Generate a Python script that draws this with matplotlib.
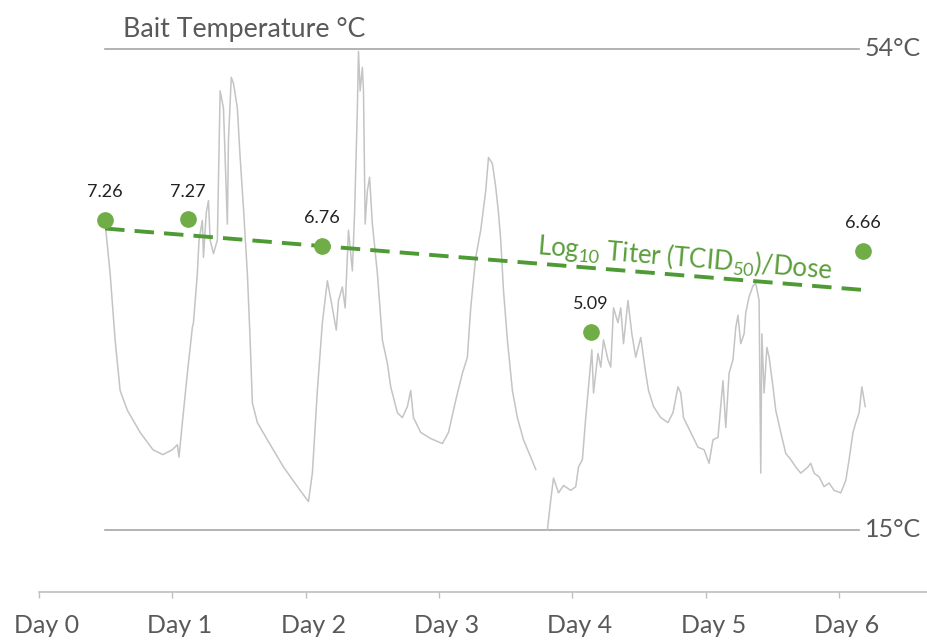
import numpy as np
import matplotlib
matplotlib.use("Agg")
import matplotlib.pyplot as plt

plt.rcParams['font.family'] = ['Lato', 'DejaVu Sans']
plt.rcParams['mathtext.fontset'] = 'custom'
plt.rcParams['mathtext.rm'] = 'Lato'
plt.rcParams['mathtext.it'] = 'Lato'

# bait temperature trace (hours since Day 0, degrees C); nan marks the logger gap
temp_hours = [11.9, 12.8, 13.7, 14.6, 15.9, 18.2, 20.5, 22.3, 24.0, 24.9, 25.2, 25.8, 26.7, 27.6, 27.8,
              28.5, 28.8, 29.4, 29.6, 30.1, 30.5, 30.8, 31.4, 32.1, 32.6, 33.2, 33.9, 34.1, 34.6, 35.0,
              35.7, 36.2, 36.8, 37.5, 38.0, 38.4, 39.3, 41.1, 44.0, 47.0, 48.5, 49.2, 50.1, 51.0, 51.9,
              52.8, 53.5, 53.9, 54.6, 55.1, 55.7, 56.4, 56.8, 57.3, 57.5, 57.8, 58.2, 58.4, 58.7, 59.1,
              59.5, 60.0, 60.9, 61.8, 62.7, 63.3, 64.5, 65.4, 66.3, 66.9, 67.4, 68.7, 70.5, 72.6, 73.7,
              75.0, 76.2, 77.1, 77.7, 78.6, 79.5, 80.4, 80.9, 81.6, 82.2, 82.7, 83.1, 83.6, 84.3, 85.2,
              86.1, 87.2, 88.5, 89.4, 90.5,
              91.5, 92.1, 92.6, 93.5, 94.4, 95.7, 96.6, 97.1, 97.8, 98.4, 98.9, 99.5, 99.8, 100.6, 101.1,
              101.6, 102.4, 102.9, 103.4, 104.2, 104.7, 105.2, 106.0, 106.7, 107.4, 108.3, 109.2, 109.7,
              110.6, 111.9, 113.2, 114.1, 115.0, 115.5, 116.0, 117.3, 118.6, 119.7, 120.6, 121.3, 122.2,
              122.7, 123.1, 123.6, 124.2, 124.9, 125.4, 125.8, 126.3, 126.9, 127.2, 127.8, 128.5, 129.0,
              129.6, 129.9, 130.1, 130.5, 131.0, 131.4, 132.1, 132.6, 133.5, 134.4, 135.3, 136.2, 137.1,
              138.4, 138.9, 139.5, 140.4, 141.3, 142.2, 143.1, 144.3, 145.2, 145.8, 146.5, 147.0, 147.6,
              148.1, 148.5, 148.7]
temp_c = [39.9, 35.8, 30.4, 26.3, 24.7, 22.9, 21.5, 21.1, 21.5, 21.9, 20.9, 23.7, 27.7, 31.4, 31.8,
          35.8, 38.5, 40.1, 37.1, 40.7, 41.7, 38.5, 37.4, 38.5, 50.6, 49.2, 39.8, 46.6, 51.7, 51.2,
          49.2, 45.2, 41.1, 35.8, 30.4, 25.3, 23.7, 22.3, 20.1, 18.2, 17.3, 19.6, 26.3, 31.8, 35.2,
          33.0, 31.2, 33.6, 34.7, 33.0, 39.3, 36.0, 40.7, 49.2, 53.8, 50.6, 52.5, 50.6, 39.8, 42.5,
          43.6, 39.8, 35.8, 30.4, 28.5, 26.6, 24.5, 24.1, 25.0, 26.3, 24.1, 22.9, 22.4, 22.0, 22.9,
          25.5, 27.7, 29.0, 33.0, 37.1, 39.3, 42.5, 45.2, 44.7, 42.8, 40.7, 38.5, 34.4, 30.4, 26.3,
          24.1, 22.3, 20.9, 19.9, np.nan,
          15.0, 17.4, 19.2, 18.0, 18.6, 18.2, 18.5, 20.1, 20.7, 24.1, 26.6, 29.6, 26.1, 29.3, 28.2,
          30.4, 28.8, 28.2, 33.0, 31.8, 33.0, 30.1, 33.6, 30.9, 29.0, 30.6, 27.7, 26.3,
          25.0, 24.1, 23.7, 24.5, 26.6, 26.1, 24.1, 22.9, 21.7, 21.5, 20.4, 22.3, 22.5,
          25.0, 27.1, 23.3, 27.7, 28.8, 31.4, 32.4, 30.1, 30.9, 32.6, 33.9, 34.8, 35.0,
          33.6, 19.6, 30.9, 26.1, 29.8, 29.0, 26.6, 24.7, 22.9, 21.2, 20.7, 20.1, 19.6,
          20.1, 20.4, 19.6, 19.3, 18.5, 18.8, 18.2, 18.0, 19.0, 20.7, 22.9, 23.7, 24.5,
          26.6, 25.5, 25.0]

# virus titer samples
titer_hours = [11.9, 26.8, 51.0, 99.3, 148.3]
titer_vals = [7.26, 7.27, 6.76, 5.09, 6.66]

ref_temps = [54, 15]
ref_labels = ['54°C', '15°C']
day_ticks = [0, 24, 48, 72, 96, 120, 144]
day_labels = ['Day 0', 'Day 1', 'Day 2', 'Day 3', 'Day 4', 'Day 5', 'Day 6']

grey_txt = '#595959'
green_pt = '#70ad47'
green_line = '#4e9a34'

fig = plt.figure(figsize=(9.28, 6.42), dpi=100)
ax = fig.add_axes([39 / 928, 50 / 642, 889 / 928, 592 / 642])

ax.plot(temp_hours, temp_c, color='#c4c4c4', lw=1.1, zorder=2)
for t, lab in zip(ref_temps, ref_labels):
    ax.plot([11.9, 147.6], [t, t], color='#a6a6a6', lw=1.2, zorder=1)
    ax.annotate(lab, xy=(147.6, t), xytext=(4, 0), textcoords='offset points',
                ha='left', va='center', fontsize=18, color=grey_txt)

ax.text(15.1, 55.6, 'Bait Temperature °C', ha='left', va='center', fontsize=19.3, color=grey_txt)

ax.set_xlim(0, 160)
ax.set_ylim(9.96, 57.97)
ax.set_xticks(day_ticks)
ax.set_xticklabels([])
# labels sit a little right of their ticks, as in the source chart
for d, lab in zip(day_ticks, day_labels):
    ax.annotate(lab, xy=(d, 0), xycoords=('data', 'axes fraction'), xytext=(5.5, -15.5),
                textcoords='offset points', ha='center', va='top', fontsize=18,
                color=grey_txt, annotation_clip=False)
ax.tick_params(axis='x', direction='out', length=4, width=1, color='#bfbfbf')
ax.set_yticks([])
for side in ['top', 'left', 'right']:
    ax.spines[side].set_visible(False)
ax.spines['bottom'].set_color('#bfbfbf')
ax.spines['bottom'].set_linewidth(1.2)

ax2 = ax.twinx()
ax2.set_ylim(0.037, 11.53)
ax2.axis('off')

slope, icpt = np.polyfit(titer_hours, titer_vals, 1)
fit_x = np.array([titer_hours[0], titer_hours[-1]])
ax2.plot(fit_x, slope * fit_x + icpt, color=green_line, lw=2.8, ls=(0, (5, 2.6)), zorder=3)
ax2.plot(titer_hours, titer_vals, 'o', color=green_pt, ms=11, zorder=4)
for hx, v in zip(titer_hours, titer_vals):
    ax2.annotate(f'{v:.2f}', xy=(hx, v), xytext=(0, 20), textcoords='offset points',
                 ha='center', va='center', fontsize=13, color='#222222')

ax2.text(116.3, 6.52, r'Log$_{10}$ Titer (TCID$_{50}$)/Dose', ha='center', va='center',
         fontsize=18.5, color='#5a9e3a', rotation=-4.8, rotation_mode='anchor', zorder=5)

fig.savefig('out.png', dpi=100)
